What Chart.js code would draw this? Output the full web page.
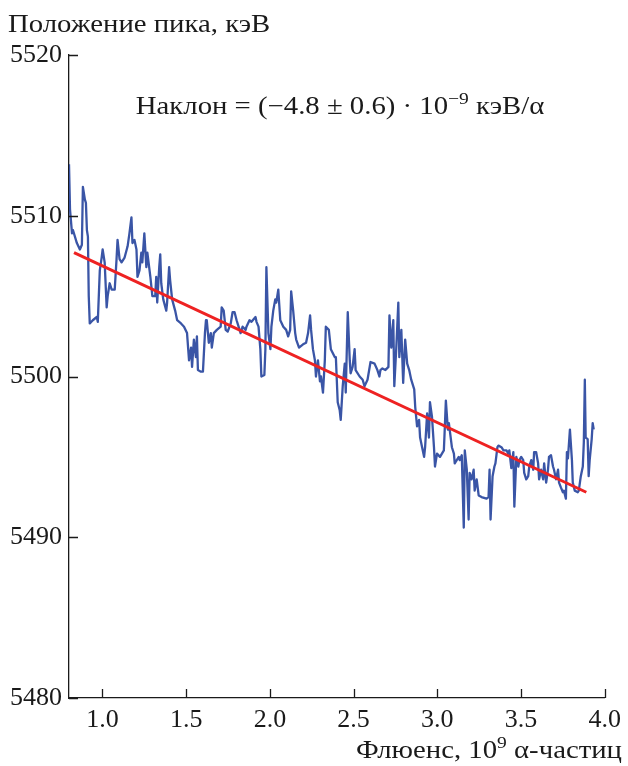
<!DOCTYPE html>
<html>
<head>
<meta charset="utf-8">
<script src="https://cdn.jsdelivr.net/npm/chart.js@4/dist/chart.umd.min.js"></script>
<style>
  html, body { margin: 0; padding: 0; background: #ffffff; }
  #wrap { width: 628px; height: 766px; }
</style>
</head>
<body>
<div id="wrap"><canvas id="c" width="628" height="766"></canvas></div>
<script>
// Fluence, 10^9 alpha particles
const fluence = [
  0.800,0.806,0.818,0.824,0.847,0.865,0.877,0.883,0.895,0.901,0.907,0.913,0.918,0.924,0.942,0.966,0.972,0.984,0.995,1.001,
  1.013,1.025,1.031,1.043,1.055,1.073,1.084,1.090,1.102,1.114,1.132,1.150,1.161,1.173,1.179,1.191,1.203,1.209,1.221,1.232,
  1.238,1.250,1.262,1.268,1.286,1.298,1.315,1.321,
  1.327,1.339,1.345,1.351,1.363,1.381,1.386,1.398,1.404,1.416,1.434,1.446,1.469,1.487,1.505,1.517,1.529,1.535,1.546,1.558,
  1.564,1.570,1.588,1.600,1.612,1.618,1.623,1.635,1.647,1.653,1.665,1.683,1.706,1.712,1.724,1.736,1.748,1.766,1.777,1.789,
  1.801,1.813,1.825,1.837,1.855,
  1.860,1.878,1.890,1.914,1.920,1.932,1.943,1.949,1.967,1.973,1.979,1.991,2.003,2.009,2.020,2.032,2.038,2.050,2.062,2.080,
  2.097,2.109,2.121,2.127,2.139,2.151,2.157,2.174,2.198,2.216,2.228,2.240,2.246,2.257,2.269,2.275,2.287,2.299,2.305,2.317,
  2.328,2.334,2.352,2.364,2.388,
  2.394,2.405,2.417,2.423,2.435,2.447,2.453,2.465,2.477,2.482,2.494,2.506,2.512,2.536,2.554,2.565,2.583,2.601,2.625,2.642,
  2.654,2.660,2.672,2.690,2.708,2.714,2.725,2.737,2.743,2.755,2.767,2.773,2.785,2.796,2.808,2.820,2.832,2.844,2.862,2.868,
  2.879,2.891,2.897,2.909,
  2.921,2.927,2.939,2.950,2.956,2.968,2.980,2.986,2.998,3.016,3.039,3.045,3.051,3.063,3.069,3.087,3.099,3.104,3.116,3.128,
  3.134,3.146,3.158,3.164,3.176,3.187,3.193,3.205,3.217,3.223,3.235,3.247,3.264,3.294,3.306,3.312,3.318,3.330,3.341,3.347,
  3.359,3.365,3.383,3.395,3.413,3.424,3.430,3.442,3.454,
  3.460,3.472,3.484,3.490,3.501,3.513,3.519,3.531,3.543,3.549,3.561,3.573,3.578,3.590,3.602,3.608,3.620,3.632,3.638,3.650,
  3.661,3.667,3.679,3.691,3.697,3.709,3.721,3.727,3.738,3.750,3.756,3.768,3.774,3.780,3.792,3.804,3.809,3.821,3.839,3.845,
  3.857,3.869,3.875,3.881,3.886,3.898,3.904,3.910,3.922,3.928,3.934
];
// Peak position, keV
const peakKeV = [
  5513.2,5510.4,5508.9,5509.1,5508.3,5507.9,5508.2,5511.8,5511.0,5510.8,5509.1,5508.7,5505.0,5503.3,5503.5,5503.7,5503.4,5506.6,5507.4,5507.9,
  5507.1,5504.3,5505.0,5505.8,5505.4,5505.4,5507.3,5508.5,5507.3,5507.1,5507.4,5508.1,5508.9,5509.9,5508.3,5508.5,5507.9,5506.2,5506.6,5507.7,
  5507.1,5508.9,5506.8,5507.7,5506.2,5505.0,5505.0,5506.2,
  5504.6,5506.8,5507.6,5505.8,5504.8,5504.1,5504.6,5506.8,5506.0,5504.8,5504.1,5503.5,5503.3,5503.1,5502.7,5501.0,5501.8,5500.6,5502.3,5501.2,
  5502.5,5500.4,5500.3,5500.3,5502.7,5503.5,5503.5,5502.1,5502.7,5501.8,5502.7,5502.9,5503.1,5504.3,5504.1,5502.9,5502.8,5503.3,5504.0,5504.0,
  5503.5,5503.1,5502.7,5503.1,5502.9,
  5503.1,5503.5,5503.4,5503.7,5503.4,5503.1,5501.7,5500.0,5500.1,5501.7,5506.8,5502.7,5501.7,5503.1,5504.1,5504.8,5504.6,5505.4,5503.5,5503.1,
  5502.9,5502.5,5502.9,5505.3,5504.1,5502.7,5502.3,5501.8,5502.0,5502.1,5502.7,5503.8,5502.9,5501.7,5501.0,5500.0,5501.0,5499.7,5500.0,5499.0,
  5501.0,5503.1,5502.9,5501.7,5501.2,
  5501.2,5498.4,5497.9,5497.3,5499.4,5500.8,5499.0,5504.0,5501.0,5500.2,5500.6,5501.7,5500.4,5500.0,5499.8,5499.4,5499.8,5500.9,5500.8,5500.4,
  5500.0,5500.4,5500.5,5500.4,5500.6,5503.8,5501.8,5503.5,5499.4,5501.8,5504.6,5501.2,5502.9,5499.6,5502.3,5500.8,5500.4,5499.8,5499.2,5498.1,
  5496.9,5497.3,5496.2,5495.6,
  5495.0,5495.6,5497.7,5496.2,5498.4,5497.5,5495.6,5494.4,5495.2,5495.0,5495.4,5496.9,5498.5,5496.7,5497.1,5495.6,5495.2,5494.6,5494.8,5495.0,
  5494.8,5495.1,5490.6,5495.4,5494.2,5491.1,5494.0,5493.6,5494.2,5492.9,5493.6,5492.6,5492.5,5492.4,5492.5,5494.2,5491.1,5493.8,5494.4,5494.6,
  5495.6,5495.7,5495.6,5495.4,5495.4,5495.2,5495.4,5494.3,5495.3,
  5491.9,5495.0,5494.4,5494.8,5495.0,5494.8,5494.0,5493.6,5493.8,5494.4,5494.8,5494.2,5495.3,5495.3,5494.6,5493.6,5494.2,5493.6,5494.6,5493.4,
  5494.2,5495.0,5495.1,5494.4,5494.2,5493.6,5494.2,5493.4,5493.1,5492.8,5492.9,5492.4,5495.3,5494.9,5496.7,5494.8,5493.4,5492.9,5492.8,5492.9,
  5493.8,5494.4,5495.9,5499.8,5496.2,5496.1,5493.8,5494.8,5496.1,5497.1,5496.7
];
// Linear fit end points
const fitX = [0.83, 3.89];
const fitY = [5507.7, 5492.8];
// Axis ticks
const xTicks = [1.0, 1.5, 2.0, 2.5, 3.0, 3.5, 4.0];
const yTicks = [5480, 5490, 5500, 5510, 5520];

const SERIF = '"Liberation Serif", "DejaVu Serif", serif';
const TXT = '#1a1a1a';
const STRETCH = 1.15;

const mainPoints = fluence.map((x, i) => ({ x: x, y: peakKeV[i] }));
const fitPoints = fitX.map((x, i) => ({ x: x, y: fitY[i] }));

const decor = {
  id: 'decor',
  afterDraw(chart) {
    const ctx = chart.ctx;
    const xs = chart.scales.x, ys = chart.scales.y;
    const area = chart.chartArea;
    ctx.save();
    // inward tick marks
    ctx.strokeStyle = '#1a1a1a';
    ctx.lineWidth = 1.3;
    ctx.beginPath();
    xTicks.forEach(v => {
      const p = Math.round(xs.getPixelForValue(v)) + 0.5;
      ctx.moveTo(p, area.bottom);
      ctx.lineTo(p, area.bottom - 9);
    });
    yTicks.forEach(v => {
      const p = Math.round(ys.getPixelForValue(v)) + 0.5;
      ctx.moveTo(area.left, p);
      ctx.lineTo(area.left + 9, p);
    });
    ctx.stroke();

    ctx.fillStyle = TXT;
    ctx.textBaseline = 'alphabetic';
    ctx.textAlign = 'left';

    // draw text runs (with superscripts), horizontally stretched
    function runs(parts, x, y, align) {
      const big = '25px ' + SERIF, small = '17px ' + SERIF;
      let total = 0;
      parts.forEach(p => { ctx.font = p.sup ? small : big; total += ctx.measureText(p.t).width; });
      total *= STRETCH;
      let sx = align === 'right' ? x - total : (align === 'center' ? x - total / 2 : x);
      ctx.save();
      ctx.translate(sx, y);
      ctx.scale(STRETCH, 1);
      let cx = 0;
      parts.forEach(p => {
        ctx.font = p.sup ? small : big;
        ctx.fillText(p.t, cx, p.sup ? -10 : 0);
        cx += ctx.measureText(p.t).width;
      });
      ctx.restore();
    }
    // y axis title
    runs([{ t: 'Положение пика, кэВ' }], 8, 32, 'left');
    // x axis title
    runs([{ t: 'Флюенс, 10' }, { t: '9', sup: true }, { t: ' α-частиц' }], 622, 758, 'right');
    // slope annotation
    runs([{ t: 'Наклон = (−4.8 ± 0.6) · 10' }, { t: '−9', sup: true }, { t: ' кэВ/α' }], 340, 114, 'center');
    ctx.restore();
  }
};

new Chart(document.getElementById('c'), {
  type: 'line',
  data: {
    datasets: [
      {
        data: mainPoints,
        borderColor: '#3a55a6',
        borderWidth: 2.3,
        pointRadius: 0,
        tension: 0,
        borderJoinStyle: 'round',
        order: 2
      },
      {
        data: fitPoints,
        borderColor: '#ee2222',
        borderWidth: 3,
        pointRadius: 0,
        tension: 0,
        order: 1
      }
    ]
  },
  options: {
    responsive: false,
    animation: false,
    layout: { padding: { top: 55, right: 18, left: 0, bottom: 0 } },
    plugins: { legend: { display: false }, tooltip: { enabled: false }, title: { display: false } },
    scales: {
      x: {
        type: 'linear',
        min: 0.8,
        max: 4.0,
        grid: { display: false, drawTicks: false },
        border: { display: true, color: '#1a1a1a', width: 1.3 },
        afterBuildTicks: s => { s.ticks = xTicks.map(v => ({ value: v })); },
        afterFit: s => { s.height = 68; },
        ticks: {
          color: TXT,
          font: { family: SERIF, size: 26 },
          padding: 7,
          maxRotation: 0,
          autoSkip: false,
          callback: v => Number(v).toFixed(1)
        }
      },
      y: {
        type: 'linear',
        min: 5480,
        max: 5520,
        grid: { display: false, drawTicks: false },
        border: { display: true, color: '#1a1a1a', width: 1.3 },
        afterBuildTicks: s => { s.ticks = yTicks.map(v => ({ value: v })); },
        afterFit: s => { s.width = 69; },
        ticks: {
          color: TXT,
          font: { family: SERIF, size: 26 },
          padding: 7,
          autoSkip: false,
          callback: v => String(v)
        }
      }
    }
  },
  plugins: [decor]
});
</script>
</body>
</html>
